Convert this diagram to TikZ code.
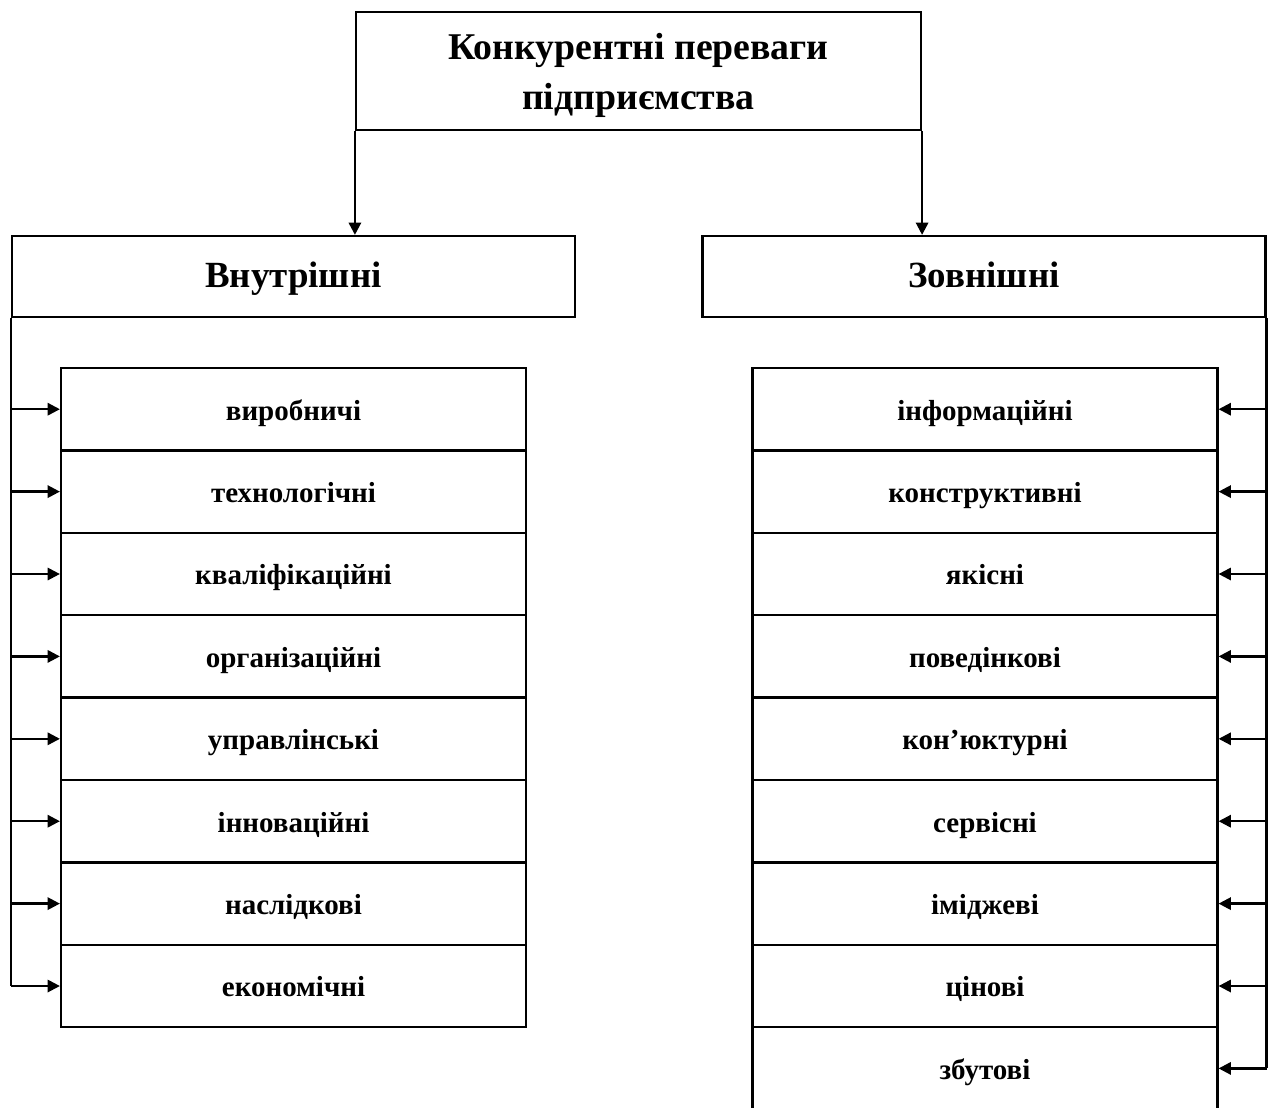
\documentclass[tikz,border=0pt]{standalone}
\usepackage{fontspec}
\setmainfont{Liberation Serif}
\usetikzlibrary{arrows.meta}

\tikzset{
    box/.style={draw, line width=1.3pt, align=center, text height=3.1ex, text depth=0.4ex, font=\bfseries\fontsize{16.5}{18}\selectfont},
    head/.style={box, minimum width=11.26cm, minimum height=1.62cm, font=\bfseries\fontsize{21}{24}\selectfont},
    item/.style={box, minimum width=9.3cm, minimum height=1.648cm},
    arr/.style={-{Triangle[length=7pt,width=7pt]}, line width=1.3pt}
}

\begin{document}
\begin{tikzpicture}[x=0.02cm, y=-0.02cm]
    \useasboundingbox (0,0) rectangle (1271,1107);
    \node[draw, line width=1.3pt, align=center, minimum width=11.3cm, minimum height=2.36cm, font=\bfseries\fontsize{21.5}{28.5}\selectfont] (top) at (638.5,71) {\rule{0pt}{20pt}Конкурентні переваги\\підприємства};
    \node[head] (inner) at (293.5,276.5) {Внутрішні};
    \node[head] (outer) at (984,276.5) {Зовнішні};
    \draw[arr] (top.south west) -- (top.south west |- inner.north);
    \draw[arr] (top.south east) -- (top.south east |- outer.north);
% internal
    \node[item] (L1) at (293.5,409.2) {виробничі};
    \node[item] (L2) at (293.5,491.6) {технологічні};
    \node[item] (L3) at (293.5,574.0) {кваліфікаційні};
    \node[item] (L4) at (293.5,656.4) {організаційні};
    \node[item] (L5) at (293.5,738.8) {управлінські};
    \node[item] (L6) at (293.5,821.2) {інноваційні};
    \node[item] (L7) at (293.5,903.6) {наслідкові};
    \node[item] (L8) at (293.5,986.0) {економічні};
    \coordinate (BL) at (inner.south west |- L8.west);
    \draw[line width=1.3pt] (inner.south west) -- (BL);
    \draw[arr] (inner.south west |- L1.west) -- (L1.west);
    \draw[arr] (inner.south west |- L2.west) -- (L2.west);
    \draw[arr] (inner.south west |- L3.west) -- (L3.west);
    \draw[arr] (inner.south west |- L4.west) -- (L4.west);
    \draw[arr] (inner.south west |- L5.west) -- (L5.west);
    \draw[arr] (inner.south west |- L6.west) -- (L6.west);
    \draw[arr] (inner.south west |- L7.west) -- (L7.west);
    \draw[arr] (BL) -- (L8.west);
% external
    \node[item] (R1) at (985,409.2) {інформаційні};
    \node[item] (R2) at (985,491.6) {конструктивні};
    \node[item] (R3) at (985,574.0) {якісні};
    \node[item] (R4) at (985,656.4) {поведінкові};
    \node[item] (R5) at (985,738.8) {кон’юктурні};
    \node[item] (R6) at (985,821.2) {сервісні};
    \node[item] (R7) at (985,903.6) {іміджеві};
    \node[item] (R8) at (985,986.0) {цінові};
    \node[item] (R9) at (985,1068.4) {збутові};
    \coordinate (BR) at (outer.south east |- R9.east);
    \draw[line width=1.3pt] (outer.south east) -- (BR);
    \draw[arr] (outer.south east |- R1.east) -- (R1.east);
    \draw[arr] (outer.south east |- R2.east) -- (R2.east);
    \draw[arr] (outer.south east |- R3.east) -- (R3.east);
    \draw[arr] (outer.south east |- R4.east) -- (R4.east);
    \draw[arr] (outer.south east |- R5.east) -- (R5.east);
    \draw[arr] (outer.south east |- R6.east) -- (R6.east);
    \draw[arr] (outer.south east |- R7.east) -- (R7.east);
    \draw[arr] (outer.south east |- R8.east) -- (R8.east);
    \draw[arr] (BR) -- (R9.east);
\end{tikzpicture}
\end{document}
